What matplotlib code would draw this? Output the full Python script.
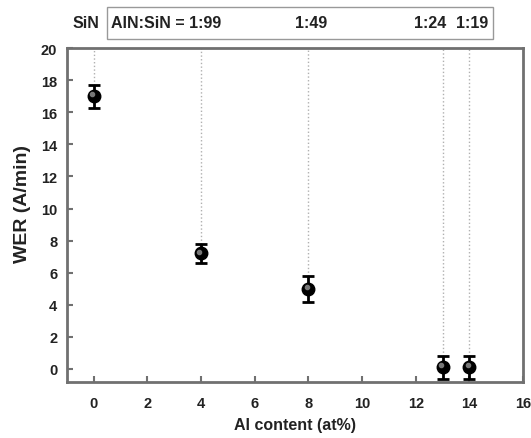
import matplotlib.pyplot as plt
from matplotlib.patches import Rectangle

plt.rcParams['font.family'] = ['Liberation Sans', 'DejaVu Sans']

# Dados
al_content = [0, 4, 8, 13, 14]
wer = [17.0, 7.2, 5.0, 0.1, 0.1]
wer_err = [0.7, 0.6, 0.8, 0.7, 0.7]
ratio_labels = ['SiN', 'AlN:SiN = 1:99', '1:49', '1:24', '1:19']
x_ticks = [0, 2, 4, 6, 8, 10, 12, 14, 16]
y_ticks = [0, 2, 4, 6, 8, 10, 12, 14, 16, 18, 20]

fig = plt.figure(figsize=(5.31, 4.39), dpi=100)
ax = fig.add_axes([0.126, 0.128, 0.859, 0.76])

spine_c = '#707070'
for s in ax.spines.values():
    s.set_color(spine_c)
    s.set_linewidth(2)

# linhas pontilhadas verticais
for x, y, e in zip(al_content, wer, wer_err):
    ax.plot([x, x], [y + e, 20], color='#b0b0b0', linestyle=':', linewidth=1, zorder=1)

ax.errorbar(al_content, wer, yerr=wer_err, fmt='o', color='black', ecolor='black',
            markersize=9, capsize=4, capthick=2, elinewidth=2, zorder=3)
ax.plot([a - 0.06 for a in al_content], [w + 0.12 for w in wer], 'o',
        color='#777777', markersize=3, zorder=4)

ax.set_xlim(-1, 16)
ax.set_ylim(-0.8, 20)
ax.set_xticks(x_ticks)
ax.set_yticks(y_ticks)
ax.tick_params(direction='in', length=4, width=1.5, color=spine_c, labelsize=10.5)
ax.tick_params(axis='x', pad=10)
ax.tick_params(axis='y', pad=7)
for lab in ax.get_xticklabels() + ax.get_yticklabels():
    lab.set_fontweight('bold')
    lab.set_color('#222222')

ax.set_xlabel('Al content (at%)', fontsize=11.5, fontweight='bold', color='#222222', labelpad=5)
ax.set_ylabel('WER (A/min)', fontsize=14, fontweight='bold', color='#222222')
ax.yaxis.set_label_coords(-0.078, 0.535)

# caixa superior com razões
fig.patches.append(Rectangle((0.2015, 0.909), 0.7265, 0.073, transform=fig.transFigure,
                             fill=False, edgecolor='#999999', linewidth=1))
label_x = [-0.3, 2.7, 8.1, 12.55, 14.1]
for lx, txt in zip(label_x, ratio_labels):
    ax.text(lx, 21.6, txt, ha='center', va='center', fontsize=11.5, fontweight='bold',
            color='#222222', clip_on=False)

plt.savefig('out.png', dpi=100)
